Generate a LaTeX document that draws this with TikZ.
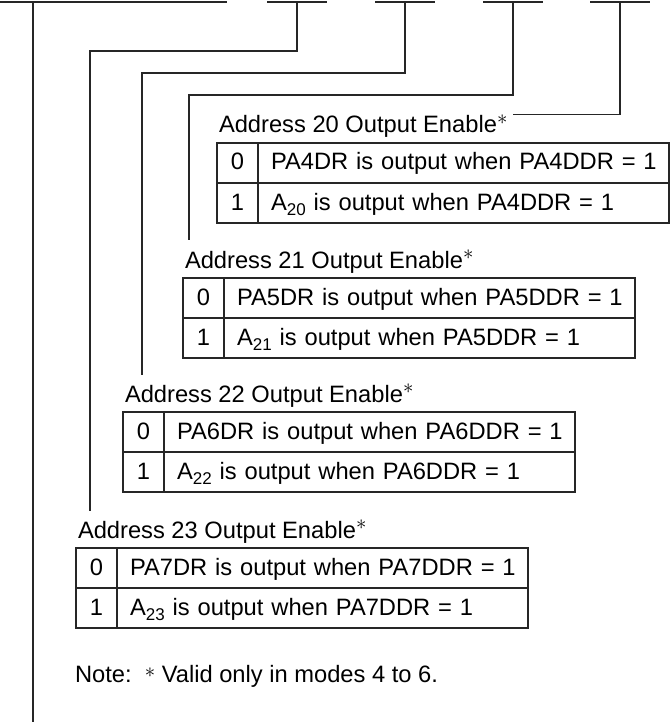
\documentclass[tikz,border=0pt]{standalone}
\usepackage{fontspec}
\setmainfont{Liberation Sans}
\usetikzlibrary{positioning,calc}

\newcommand{\lowsub}[1]{\raisebox{-5pt}{\fontsize{17}{20}\selectfont #1}}
\newcommand{\starmark}[1]{\raisebox{#1}{\fontsize{20}{20}\selectfont$\ast$}}

\begin{document}
\begin{tikzpicture}[
  x=1pt, y=-1pt,
  font=\fontsize{23.7}{28}\selectfont,
  wire/.style={draw=black!85, line width=1.1pt},
  bitcell/.style={draw=black!85, line width=1.1pt, minimum width=41pt, minimum height=40pt, inner sep=0pt, outer sep=0pt, text height=17pt, text depth=3pt},
  desccell/.style={draw=black!85, line width=1.1pt, minimum width=411pt, minimum height=40pt, inner xsep=3pt, inner ysep=0pt, outer sep=0pt, text width=405pt, align=left, text height=17pt, text depth=3pt, execute at begin node=\hspace*{10pt}},
  title/.style={inner sep=0pt, outer sep=0pt, anchor=base west}
]
\useasboundingbox (0,0) rectangle (671,722);

% register bits along the top edge
\draw[wire] (0,2) -- (227,2);
\foreach \c in {297,405,513,620}
  \draw[wire] (\c-30,2) -- (\c+30,2);

\coordinate (topX) at (33,2);
\coordinate (botX) at (33,722);
\coordinate (top23) at (297,2);
\coordinate (top22) at (405,2);
\coordinate (top21) at (513,2);
\coordinate (top20) at (620,2);

% one table per address bit
\foreach \n/\x/\y/\p in {20/217/143/4, 21/183/278/5, 22/123/412/6, 23/76/548/7} {
  \node[title] (lab\n) at (\x+2,\y-10) {Address \n\ Output Enable\starmark{8.5pt}};
  \node[bitcell, anchor=north west] (n\n a) at (\x,\y) {0};
  \node[desccell, anchor=north west] (d\n a) at (n\n a.north east) {PA\p DR is output when PA\p DDR = 1};
  \node[bitcell, anchor=north] (n\n b) at (n\n a.south) {1};
  \node[desccell, anchor=north west] (d\n b) at (n\n b.north east) {A\lowsub{\n} is output when PA\p DDR = 1};
}

% knees and ends of the bit lines
\coordinate (knee23) at (90,51);
\coordinate (end23) at (90,511);
\coordinate (knee22) at (142,73);
\coordinate (end22) at (142,375);
\coordinate (knee21) at (189,95);
\coordinate (end21) at (189,240);

\draw[wire] (topX) -- (botX);
\draw[wire] (top23) |- (knee23) -- (end23);
\draw[wire] (top22) |- (knee22) -- (end22);
\draw[wire] (top21) |- (knee21) -- (end21);
\draw[wire] (top20) |- ([xshift=6pt]lab20.north east);

\node[title] (note) at (75,682) {Note:\ \ \starmark{4.5pt} Valid only in modes 4 to 6.};
\end{tikzpicture}
\end{document}
